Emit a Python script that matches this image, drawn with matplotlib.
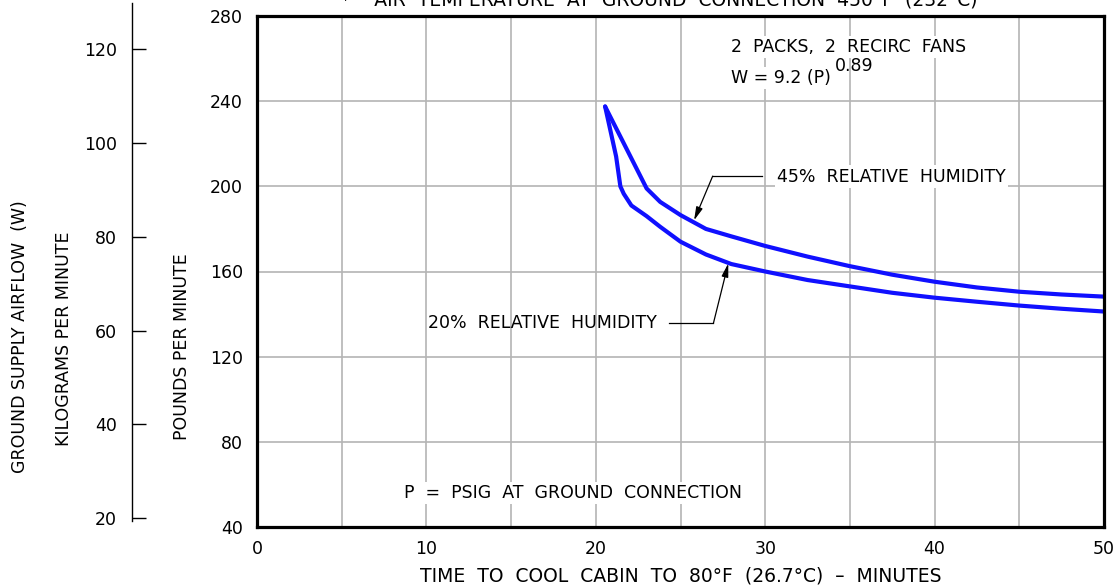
import numpy as np
import matplotlib
matplotlib.use("Agg")
import matplotlib.pyplot as plt

# Cooling time (minutes) vs. ground supply airflow (lb/min)
time_45 = [20.55, 23.0, 23.8, 25.0, 26.5, 28.0, 30.0, 32.5, 35.0, 37.5, 40.0, 42.5, 45.0, 47.5, 50.0]
flow_45 = [237.5, 199.0, 192.7, 186.5, 180.0, 176.5, 172.0, 167.0, 162.5, 158.5, 155.2, 152.5, 150.5, 149.2, 148.2]

time_20 = [20.55, 21.2, 21.45, 21.65, 22.1, 23.0, 23.8, 25.0, 26.5, 28.0, 30.0, 32.5, 35.0, 37.5, 40.0, 42.5, 45.0, 47.5, 50.0]
flow_20 = [237.5, 214.0, 200.0, 196.5, 191.0, 186.0, 181.0, 174.0, 168.0, 163.5, 160.0, 156.0, 153.0, 150.0, 147.7, 145.8, 144.0, 142.5, 141.2]

x_ticks = [0, 10, 20, 30, 40, 50]
lb_ticks = [40, 80, 120, 160, 200, 240, 280]
kg_ticks = [20, 40, 60, 80, 100, 120]

KG_PER_LB = 0.4536
LINE_BLUE = "#1010ff"
FS = 12.5

plt.rcParams["font.family"] = ["DejaVu Sans"]

fig = plt.figure(figsize=(11.16, 5.87), dpi=100)

# main chart (pounds per minute)
ax = fig.add_axes([257 / 1116, 60 / 587, 847 / 1116, 511 / 587])
ax.set_xlim(0, 50)
ax.set_ylim(40, 280)
ax.set_xticks(x_ticks)
ax.set_xticks(np.arange(5, 50, 10), minor=True)
ax.set_yticks(lb_ticks)
ax.tick_params(axis="both", which="both", length=0, labelsize=FS)
ax.tick_params(axis="x", pad=9)
ax.tick_params(axis="y", pad=10)
ax.grid(True, which="both", color="#b4b4b4", linewidth=1.2, zorder=0)
for sp in ax.spines.values():
    sp.set_linewidth(2.3)
    sp.set_color("black")
    sp.set_zorder(5)

ax.plot(time_45, flow_45, color=LINE_BLUE, linewidth=3.0, solid_joinstyle="round",
        solid_capstyle="round", zorder=4)
ax.plot(time_20, flow_20, color=LINE_BLUE, linewidth=3.0, solid_joinstyle="round",
        solid_capstyle="round", zorder=4)

mask = dict(facecolor="white", edgecolor="none", pad=1.5)

# notes inside the plot
ax.text(28.0, 265.5, "2  PACKS,  2  RECIRC  FANS", fontsize=FS, va="center", ha="left",
        bbox=mask, zorder=3)
t_w = ax.text(28.0, 250.7, "W = 9.2 (P)", fontsize=FS, va="center", ha="left",
              bbox=mask, zorder=3)
ax.annotate("0.89", xy=(1, 0.5), xycoords=t_w, xytext=(2.5, 2.5), textcoords="offset points",
            fontsize=FS, va="bottom", ha="left", zorder=3)
ax.text(8.65, 56.0, "P  =  PSIG  AT  GROUND  CONNECTION", fontsize=FS, va="center", ha="left",
        bbox=mask, zorder=3)

# curve callouts
ax.text(30.68, 204.6, "45%  RELATIVE  HUMIDITY", fontsize=FS, va="center", ha="left",
        bbox=mask, zorder=3)
ax.plot([29.8, 26.9], [204.8, 204.8], color="black", linewidth=0.9, zorder=3)
ax.annotate("", xy=(25.8, 184.0), xytext=(26.9, 204.8),
            arrowprops=dict(arrowstyle="-|>,head_length=0.8,head_width=0.2",
                            color="black", linewidth=0.9, shrinkA=0, shrinkB=0), zorder=6)

ax.text(10.1, 135.6, "20%  RELATIVE  HUMIDITY", fontsize=FS, va="center", ha="left", zorder=3)
ax.plot([24.3, 26.94], [135.6, 135.6], color="black", linewidth=0.9, zorder=3)
ax.annotate("", xy=(27.82, 163.8), xytext=(26.94, 135.6),
            arrowprops=dict(arrowstyle="-|>,head_length=0.8,head_width=0.2",
                            color="black", linewidth=0.9, shrinkA=0, shrinkB=0), zorder=6)

# secondary scale in kilograms per minute
ax_kg = fig.add_axes([132 / 1116, 60 / 587, 0.001, 511 / 587])
ax_kg.set_ylim(40 * KG_PER_LB, 280 * KG_PER_LB)
ax_kg.set_xlim(0, 1)
ax_kg.patch.set_visible(False)
for sp in ax_kg.spines.values():
    sp.set_visible(False)
ax_kg.set_xticks([])
ax_kg.set_yticks(kg_ticks)
ax_kg.tick_params(axis="y", direction="in", length=10, width=1.0, pad=11, labelsize=FS)
ax_kg.plot([0, 0], [19.4, 129.8], color="black", linewidth=1.0, clip_on=False)

# axis titles
fig.text(681 / 1116, 1 - 576 / 587, "TIME  TO  COOL  CABIN  TO  80°F  (26.7°C)  –  MINUTES",
         fontsize=13.5, ha="center", va="center")
fig.text(182 / 1116, 1 - 347 / 587, "POUNDS PER MINUTE", fontsize=FS, rotation=90,
         ha="center", va="center")
fig.text(64 / 1116, 1 - 339 / 587, "KILOGRAMS PER MINUTE", fontsize=FS, rotation=90,
         ha="center", va="center")
fig.text(20 / 1116, 1 - 337 / 587, "GROUND SUPPLY AIRFLOW  (W)", fontsize=FS, rotation=90,
         ha="center", va="center")
fig.text(659 / 1116, 1 - 6 / 587,
         "*    AIR  TEMPERATURE  AT  GROUND  CONNECTION  450°F  (232°C)",
         fontsize=13.5, ha="center", va="baseline")

fig.savefig("out.png", dpi=100, facecolor="white")
